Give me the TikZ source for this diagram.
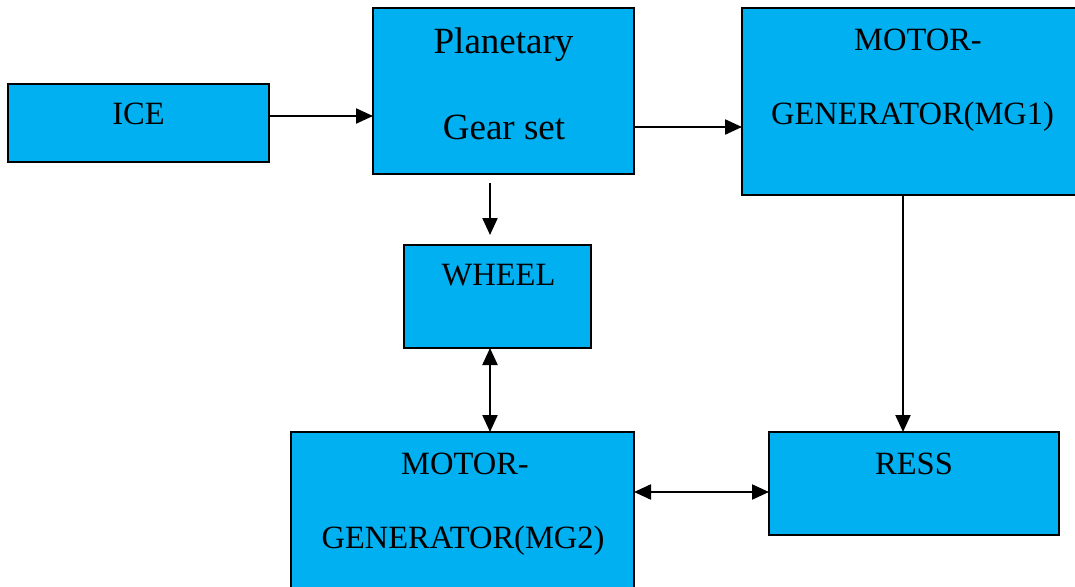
\documentclass[tikz,border=0pt]{standalone}
\usepackage{fontspec}
\setmainfont{Liberation Serif}
\usetikzlibrary{arrows.meta}
\definecolor{boxblue}{HTML}{00B0F0}
\tikzset{
  blk/.style={draw=black, line width=1.5pt, fill=boxblue, inner sep=0pt, outer sep=0pt},
  txt/.style={anchor=base, inner sep=0pt, font=\fontsize{32.5}{36}\selectfont},
  bigtxt/.style={anchor=base, inner sep=0pt, font=\fontsize{37}{42}\selectfont},
  arr/.style={line width=2.2pt, -{Triangle[length=17pt,width=15pt]}},
  darr/.style={line width=2.2pt, {Triangle[length=17pt,width=15pt]}-{Triangle[length=17pt,width=15pt]}}
}
\begin{document}
\begin{tikzpicture}[x=1pt,y=-1pt]
\useasboundingbox (0,0) rectangle (1075,586);
% boxes
\node[blk, minimum width=261pt, minimum height=78pt] (ice) at (138.5,123) {};
\node[blk, minimum width=261pt, minimum height=166pt] (pg) at (503.5,91) {};
\node[blk, minimum width=334pt, minimum height=187pt] (mg1) at (909,101.5) {};
\node[blk, minimum width=187pt, minimum height=103pt] (wheel) at (497.5,296.5) {};
\node[blk, minimum width=343pt, minimum height=156pt] (mg2) at (462.5,510) {};
\node[blk, minimum width=290pt, minimum height=103pt] (ress) at (914,483.5) {};
% texts
\node[txt] (ticeA) at (138.5,124) {ICE};
\node[bigtxt] (tpgA) at (503.5,54) {Planetary};
\node[bigtxt] (tpgB) at (504,139) {Gear set};
\node[txt] (tmg1A) at (918,51) {MOTOR-};
\node[txt] (tmg1B) at (912.5,124) {GENERATOR(MG1)};
\node[txt] (twheel) at (498.5,285) {WHEEL};
\node[txt] (tress) at (914,474) {RESS};
\node[txt] (tmg2A) at (465,474) {MOTOR-};
\node[txt] (tmg2B) at (463,548) {GENERATOR(MG2)};
% helper coordinates
\coordinate (ax) at (490,0);
\coordinate (bx) at (903,0);
\coordinate (cy) at (0,492);
\coordinate (iy) at (0,116);
\coordinate (py) at (0,127);
% connectors
\draw[arr] (ice.east |- iy) -- (pg.west |- iy);
\draw[arr] (pg.east |- py) -- (mg1.west |- py);
\draw[arr, shorten <=9pt, shorten >=10pt] (pg.south -| ax) -- (wheel.north -| ax);
\draw[darr] (wheel.south -| ax) -- (mg2.north -| ax);
\draw[arr] (mg1.south -| bx) -- (ress.north -| bx);
\draw[darr] (mg2.east |- cy) -- (ress.west |- cy);
\end{tikzpicture}
\end{document}
